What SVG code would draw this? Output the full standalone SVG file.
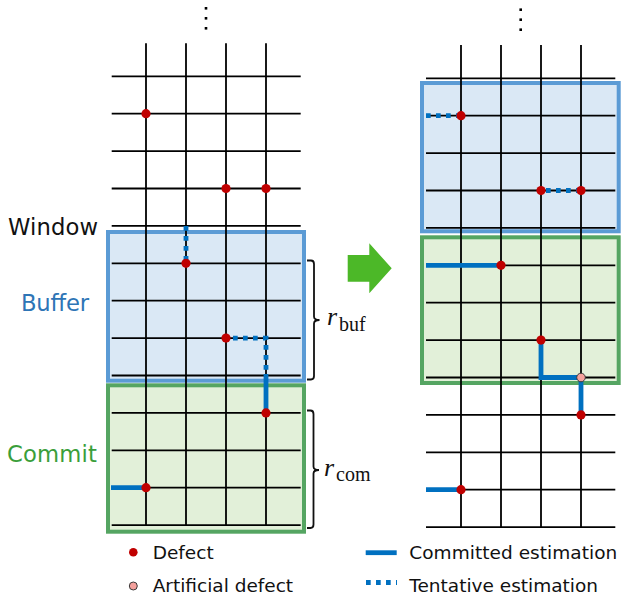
<svg xmlns="http://www.w3.org/2000/svg" width="634" height="599" viewBox="0 0 634 599">
  <style>
    .grid line { stroke: #000; stroke-width: 1.8; }
    .buf { fill: #DAE8F5; stroke: #5B9BD5; stroke-width: 4; }
    .com { fill: #E2F0D9; stroke: #55A562; stroke-width: 4; }
    .defect { fill: #C00000; }
    .artificial { fill: #F4A09C; stroke: #3a3a3a; stroke-width: 1; }
    .committed { fill: none; stroke: #0070C0; stroke-width: 4.8; stroke-linejoin: miter; }
    .tentative { fill: none; stroke: #0070C0; stroke-width: 4.8; stroke-dasharray: 4.7 5.3; }
    .brace { fill: none; stroke: #111; stroke-width: 1.8; }
    .lbl { font-family: "DejaVu Sans", "Noto Sans", sans-serif; font-size: 22.7px; }
    .leg { font-family: "DejaVu Sans", "Noto Sans", sans-serif; font-size: 18.5px; fill: #111; }
    .math { font-family: "Liberation Serif", "DejaVu Serif", serif; fill: #111; }
    .vdots rect { fill: #000; }
  </style>

  <!-- left: sliding window over the syndrome history -->
  <g id="left-window">
    <rect id="left-buffer" class="buf" x="108" y="232" width="196" height="148.7"/>
    <rect id="left-commit" class="com" x="108" y="385.3" width="196" height="146.4"/>
  </g>

  <g id="left-grid" class="grid">
    <line x1="146" y1="43.3" x2="146" y2="525.1"/>
    <line x1="186" y1="43.3" x2="186" y2="525.1"/>
    <line x1="226" y1="43.3" x2="226" y2="525.1"/>
    <line x1="266" y1="43.3" x2="266" y2="525.1"/>
    <line x1="111.7" y1="76.3" x2="300.7" y2="76.3"/>
    <line x1="111.7" y1="113.7" x2="300.7" y2="113.7"/>
    <line x1="111.7" y1="151.1" x2="300.7" y2="151.1"/>
    <line x1="111.7" y1="188.5" x2="300.7" y2="188.5"/>
    <line x1="111.7" y1="225.9" x2="300.7" y2="225.9"/>
    <line x1="111.7" y1="263.3" x2="300.7" y2="263.3"/>
    <line x1="111.7" y1="300.7" x2="300.7" y2="300.7"/>
    <line x1="111.7" y1="338.1" x2="300.7" y2="338.1"/>
    <line x1="111.7" y1="375.5" x2="300.7" y2="375.5"/>
    <line x1="111.7" y1="412.9" x2="300.7" y2="412.9"/>
    <line x1="111.7" y1="450.3" x2="300.7" y2="450.3"/>
    <line x1="111.7" y1="487.7" x2="300.7" y2="487.7"/>
    <line x1="111.7" y1="525.1" x2="300.7" y2="525.1"/>
  </g>

  <g class="vdots">
    <rect x="204.7" y="7" width="2.6" height="2.6"/>
    <rect x="204.7" y="17" width="2.6" height="2.6"/>
    <rect x="204.7" y="27" width="2.6" height="2.6"/>
    <rect x="519.4" y="8.4" width="2.6" height="2.6"/>
    <rect x="519.4" y="18.4" width="2.6" height="2.6"/>
    <rect x="519.4" y="28.4" width="2.6" height="2.6"/>
  </g>

  <!-- right: window after advancing by one commit region -->
  <g id="right-window">
    <rect id="right-buffer" class="buf" x="422" y="83" width="196.7" height="148.3"/>
    <rect id="right-commit" class="com" x="422" y="237.3" width="196.7" height="145.7"/>
  </g>

  <g id="right-grid" class="grid">
    <line x1="461" y1="45" x2="461" y2="527.1"/>
    <line x1="501" y1="45" x2="501" y2="527.1"/>
    <line x1="541" y1="45" x2="541" y2="527.1"/>
    <line x1="581" y1="45" x2="581" y2="527.1"/>
    <line x1="426" y1="78.3" x2="615.3" y2="78.3"/>
    <line x1="426" y1="115.7" x2="615.3" y2="115.7"/>
    <line x1="426" y1="153.1" x2="615.3" y2="153.1"/>
    <line x1="426" y1="190.5" x2="615.3" y2="190.5"/>
    <line x1="426" y1="227.9" x2="615.3" y2="227.9"/>
    <line x1="426" y1="265.3" x2="615.3" y2="265.3"/>
    <line x1="426" y1="302.7" x2="615.3" y2="302.7"/>
    <line x1="426" y1="340.1" x2="615.3" y2="340.1"/>
    <line x1="426" y1="377.5" x2="615.3" y2="377.5"/>
    <line x1="426" y1="414.9" x2="615.3" y2="414.9"/>
    <line x1="426" y1="452.3" x2="615.3" y2="452.3"/>
    <line x1="426" y1="489.7" x2="615.3" y2="489.7"/>
    <line x1="426" y1="527.1" x2="615.3" y2="527.1"/>
  </g>

  <!-- matching paths (estimations) -->
  <g id="connectors">
    <path class="tentative" d="M186,226 V263.3"/>
    <path class="tentative" d="M233,338.1 H266 V375"/>
    <path class="committed" d="M266,374 V412.9"/>
    <path class="committed" d="M111,487.7 H146"/>

    <path class="tentative" d="M426,115.7 H461"/>
    <path class="tentative" d="M546,190.5 H581"/>
    <path class="committed" d="M426,265.3 H501"/>
    <path class="committed" d="M541,340.1 V377.5 H581"/>
    <path class="committed" d="M581,377.5 V414.9"/>
    <path class="committed" d="M426,489.7 H461"/>
  </g>

  <!-- defects -->
  <g id="left-defects">
    <circle id="ld1" class="defect" cx="146" cy="113.7" r="4.6"/>
    <circle id="ld2" class="defect" cx="226" cy="188.5" r="4.6"/>
    <circle id="ld3" class="defect" cx="266" cy="188.5" r="4.6"/>
    <circle id="ld4" class="defect" cx="186" cy="263.3" r="4.6"/>
    <circle id="ld5" class="defect" cx="226" cy="338.1" r="4.6"/>
    <circle id="ld6" class="defect" cx="266" cy="412.9" r="4.6"/>
    <circle id="ld7" class="defect" cx="146" cy="487.7" r="4.6"/>
  </g>
  <g id="right-defects">
    <circle id="rd1" class="defect" cx="461" cy="115.7" r="4.6"/>
    <circle id="rd2" class="defect" cx="541" cy="190.5" r="4.6"/>
    <circle id="rd3" class="defect" cx="581" cy="190.5" r="4.6"/>
    <circle id="rd4" class="defect" cx="501" cy="265.3" r="4.6"/>
    <circle id="rd5" class="defect" cx="541" cy="340.1" r="4.6"/>
    <circle id="rd6" class="artificial" cx="581" cy="377.5" r="4.3"/>
    <circle id="rd7" class="defect" cx="581" cy="414.9" r="4.6"/>
    <circle id="rd8" class="defect" cx="461" cy="489.7" r="4.6"/>
  </g>

  <!-- region labels -->
  <g id="labels">
    <text class="lbl" x="8" y="235" fill="#111" textLength="90">Window</text>
    <text class="lbl" x="21" y="311" fill="#2E75B6" textLength="68">Buffer</text>
    <text class="lbl" x="7" y="462" fill="#3A9E3A" textLength="90">Commit</text>
  </g>

  <!-- window size braces -->
  <g id="brace-buf">
    <path class="brace" d="M307,260.5 H311 Q314,260.5 314,264 V316.5 Q314,320 319.5,320 Q314,320 314,323.5 V376 Q314,379.5 311,379.5 H307"/>
    <text class="math" x="327" y="325" font-size="26" font-style="italic">r</text>
    <text class="math" x="339" y="330.5" font-size="20">buf</text>
  </g>
  <g id="brace-com">
    <path class="brace" d="M307,410.5 H310.5 Q313.5,410.5 313.5,414 V466.5 Q313.5,470 319,470 Q313.5,470 313.5,473.5 V524.5 Q313.5,528 310.5,528 H307"/>
    <text class="math" x="324" y="476" font-size="26" font-style="italic">r</text>
    <text class="math" x="336" y="481" font-size="20">com</text>
  </g>

  <!-- step arrow -->
  <polygon id="step-arrow" fill="#4CB828" points="347.7,255 369.3,255 369.3,243.3 391.7,268.3 369.3,293.3 369.3,281.7 347.7,281.7"/>

  <!-- legend -->
  <g id="legend">
    <circle class="defect" cx="133.3" cy="552.3" r="4.3"/>
    <text class="leg" x="152.7" y="559">Defect</text>
    <circle class="artificial" cx="133.3" cy="586" r="4"/>
    <text class="leg" x="152.7" y="591.7">Artificial defect</text>
    <line class="committed" x1="365.7" y1="552.7" x2="396.7" y2="552.7"/>
    <text class="leg" x="409.3" y="559.3" textLength="208">Committed estimation</text>
    <line class="tentative" x1="366" y1="582.5" x2="397" y2="582.5"/>
    <text class="leg" x="409.3" y="591.7">Tentative estimation</text>
  </g>
</svg>
